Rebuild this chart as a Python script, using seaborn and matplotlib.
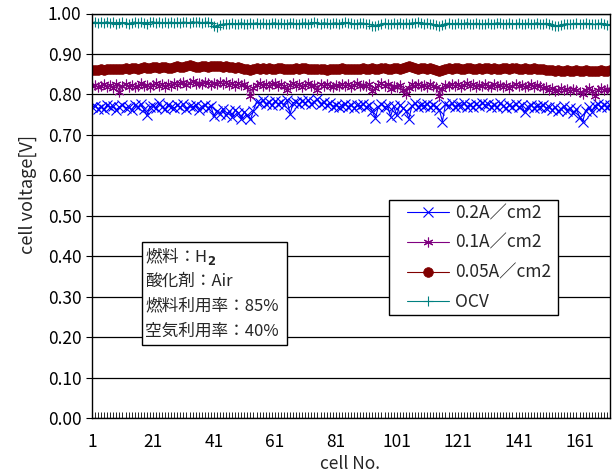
import numpy as np
import pandas as pd
import matplotlib
matplotlib.use("Agg")
import matplotlib.pyplot as plt
import seaborn as sns
from matplotlib.patches import Rectangle

# ---------------- data ----------------
series_names = ["0.2A／cm2", "0.1A／cm2", "0.05A／cm2", "OCV"]
x_tick_labels = ["1", "21", "41", "61", "81", "101", "121", "141", "161"]
y_tick_values = [0.0, 0.1, 0.2, 0.3, 0.4, 0.5, 0.6, 0.7, 0.8, 0.9, 1.0]

v_02 = [
    0.768, 0.772, 0.765, 0.770, 0.763, 0.775, 0.768, 0.771, 0.762, 0.769,
    0.774, 0.766, 0.770, 0.761, 0.773, 0.768, 0.776, 0.764, 0.748, 0.770,
    0.772, 0.766, 0.778, 0.769, 0.763, 0.775, 0.770, 0.766, 0.773, 0.768,
    0.776, 0.765, 0.771, 0.768, 0.774, 0.762, 0.770, 0.775, 0.767, 0.772,
    0.746, 0.760, 0.752, 0.765, 0.748, 0.758, 0.744, 0.762, 0.755, 0.740,
    0.757, 0.748, 0.738, 0.760, 0.782, 0.778, 0.785, 0.776, 0.781, 0.773,
    0.783, 0.777, 0.780, 0.774, 0.786, 0.752, 0.779, 0.782, 0.776, 0.784,
    0.779, 0.785, 0.777, 0.782, 0.788, 0.776, 0.781, 0.773, 0.779, 0.770,
    0.775, 0.768, 0.772, 0.777, 0.770, 0.774, 0.767, 0.773, 0.771, 0.776,
    0.769, 0.775, 0.758, 0.742, 0.770, 0.776, 0.768, 0.772, 0.745, 0.771,
    0.748, 0.774, 0.766, 0.760, 0.740, 0.772, 0.778, 0.769, 0.775, 0.771,
    0.777, 0.768, 0.774, 0.770, 0.762, 0.733, 0.776, 0.771, 0.778, 0.769,
    0.775, 0.772, 0.779, 0.770, 0.774, 0.768, 0.776, 0.771, 0.779, 0.773,
    0.777, 0.770, 0.775, 0.768, 0.778, 0.772, 0.766, 0.774, 0.770, 0.776,
    0.768, 0.773, 0.756, 0.770, 0.775, 0.767, 0.772, 0.769, 0.774, 0.766,
    0.770, 0.762, 0.768, 0.758, 0.765, 0.771, 0.760, 0.766, 0.755, 0.763,
    0.745, 0.732, 0.760, 0.768, 0.757, 0.772, 0.776, 0.768, 0.774, 0.770, 0.775,
]

v_01 = [
    0.820, 0.824, 0.818, 0.822, 0.826, 0.819, 0.823, 0.817, 0.825, 0.806,
    0.821, 0.826, 0.819, 0.824, 0.818, 0.822, 0.827, 0.820, 0.824, 0.819,
    0.823, 0.828, 0.821, 0.825, 0.819, 0.826, 0.822, 0.829, 0.824, 0.827,
    0.830, 0.824, 0.828, 0.832, 0.826, 0.829, 0.825, 0.831, 0.827, 0.823,
    0.829, 0.825, 0.831, 0.826, 0.830, 0.824, 0.828, 0.822, 0.827, 0.823,
    0.826, 0.818, 0.797, 0.815, 0.824, 0.828, 0.822, 0.826, 0.821, 0.825,
    0.828, 0.822, 0.826, 0.820, 0.812, 0.824, 0.827, 0.821, 0.825, 0.819,
    0.823, 0.827, 0.821, 0.824, 0.811, 0.825, 0.820, 0.826, 0.822, 0.818,
    0.824, 0.820, 0.826, 0.821, 0.825, 0.819, 0.823, 0.827, 0.821, 0.824,
    0.820, 0.826, 0.808, 0.815, 0.823, 0.827, 0.821, 0.825, 0.813, 0.822,
    0.818, 0.824, 0.812, 0.800, 0.817, 0.825, 0.821, 0.826, 0.820, 0.824,
    0.819, 0.825, 0.822, 0.818, 0.796, 0.814, 0.824, 0.820, 0.826, 0.821,
    0.825, 0.819, 0.823, 0.827, 0.821, 0.825, 0.818, 0.824, 0.820, 0.826,
    0.822, 0.818, 0.825, 0.820, 0.824, 0.819, 0.823, 0.817, 0.822, 0.826,
    0.820, 0.824, 0.818, 0.822, 0.826, 0.819, 0.823, 0.820, 0.815, 0.818,
    0.812, 0.815, 0.808, 0.812, 0.816, 0.810, 0.814, 0.809, 0.813, 0.811,
    0.807, 0.800, 0.812, 0.815, 0.808, 0.796, 0.812, 0.816, 0.810, 0.814, 0.811,
]

v_005 = [
    0.860, 0.861, 0.860, 0.862, 0.861, 0.863, 0.862, 0.864, 0.863, 0.862,
    0.864, 0.865, 0.863, 0.866, 0.865, 0.864, 0.866, 0.867, 0.865, 0.866,
    0.868, 0.867, 0.866, 0.868, 0.867, 0.865, 0.866, 0.868, 0.869, 0.867,
    0.868, 0.870, 0.872, 0.869, 0.867, 0.868, 0.870, 0.869, 0.868, 0.870,
    0.871, 0.869, 0.870, 0.868, 0.869, 0.867, 0.868, 0.866, 0.867, 0.865,
    0.864, 0.862, 0.861, 0.863, 0.865, 0.864, 0.866, 0.864, 0.865, 0.863,
    0.864, 0.866, 0.865, 0.863, 0.864, 0.862, 0.863, 0.865, 0.864, 0.866,
    0.865, 0.863, 0.864, 0.862, 0.863, 0.864, 0.862, 0.861, 0.863, 0.862,
    0.864, 0.863, 0.865, 0.864, 0.862, 0.863, 0.864, 0.862, 0.863, 0.865,
    0.864, 0.863, 0.865, 0.862, 0.864, 0.866, 0.865, 0.863, 0.864, 0.866,
    0.865, 0.864, 0.866, 0.868, 0.870, 0.867, 0.865, 0.864, 0.866, 0.865,
    0.864, 0.866, 0.863, 0.861, 0.858, 0.860, 0.863, 0.865, 0.864, 0.866,
    0.865, 0.863, 0.864, 0.866, 0.865, 0.863, 0.864, 0.866, 0.864, 0.865,
    0.866, 0.864, 0.865, 0.863, 0.864, 0.866, 0.865, 0.864, 0.866, 0.865,
    0.863, 0.864, 0.865, 0.863, 0.864, 0.866, 0.864, 0.862, 0.863, 0.861,
    0.860, 0.861, 0.859, 0.860, 0.858, 0.859, 0.860, 0.858, 0.859, 0.860,
    0.858, 0.859, 0.860, 0.858, 0.859, 0.857, 0.859, 0.860, 0.858, 0.859, 0.860,
]

v_ocv = [
    0.977, 0.979, 0.976, 0.978, 0.977, 0.980, 0.976, 0.978, 0.975, 0.977,
    0.978, 0.976, 0.975, 0.977, 0.979, 0.976, 0.978, 0.977, 0.975, 0.978,
    0.980, 0.977, 0.979, 0.976, 0.978, 0.977, 0.979, 0.976, 0.978, 0.977,
    0.979, 0.978, 0.977, 0.980, 0.978, 0.979, 0.977, 0.978, 0.979, 0.976,
    0.970, 0.967, 0.972, 0.974, 0.975, 0.973, 0.976, 0.974, 0.975, 0.977,
    0.975, 0.974, 0.976, 0.975, 0.977, 0.974, 0.976, 0.975, 0.973, 0.976,
    0.977, 0.975, 0.976, 0.974, 0.975, 0.977, 0.976, 0.974, 0.975, 0.976,
    0.977, 0.975, 0.976, 0.978, 0.976, 0.975, 0.977, 0.976, 0.974, 0.976,
    0.977, 0.975, 0.976, 0.978, 0.977, 0.976, 0.974, 0.975, 0.977, 0.976,
    0.975, 0.973, 0.970, 0.969, 0.972, 0.974, 0.976, 0.975, 0.974, 0.976,
    0.975, 0.977, 0.974, 0.976, 0.975, 0.977, 0.976, 0.978, 0.976, 0.975,
    0.976, 0.974, 0.973, 0.971, 0.968, 0.972, 0.975, 0.976, 0.974, 0.975,
    0.976, 0.974, 0.975, 0.977, 0.975, 0.974, 0.976, 0.975, 0.973, 0.975,
    0.976, 0.974, 0.975, 0.977, 0.976, 0.974, 0.975, 0.976, 0.974, 0.975,
    0.976, 0.974, 0.975, 0.976, 0.974, 0.975, 0.977, 0.975, 0.974, 0.976,
    0.974, 0.972, 0.970, 0.969, 0.972, 0.974, 0.975, 0.973, 0.975, 0.976,
    0.974, 0.975, 0.976, 0.974, 0.975, 0.973, 0.975, 0.976, 0.974, 0.972, 0.973,
]

cells = list(range(1, len(v_02) + 1))
info_lines = ["燃料：H$_\\mathbf{2}$", "酸化剤：Air", "燃料利用率：85%", "空気利用率：40%"]

# ---------------- style ----------------
sns.set_theme(style="white")
plt.rcParams["font.family"] = ["Noto Sans CJK JP", "DejaVu Sans"]
plt.rcParams["mathtext.fontset"] = "dejavusans"

W, H = 613, 475
fig = plt.figure(figsize=(W / 100, H / 100), dpi=100)
ax_bottom, ax_top = 418, 13.5
ax = fig.add_axes([92 / W, 1 - ax_bottom / H, (610 - 92) / W, (ax_bottom - ax_top) / H])

styles = [
    dict(color="#0000FF", marker="x", markersize=7, markeredgewidth=0.8),
    dict(color="#800080", marker=(6, 2, 0), markersize=7, markeredgewidth=0.8),
    dict(color="#800000", marker="o", markersize=7, markeredgewidth=0.5),
    dict(color="#008080", marker="+", markersize=7, markeredgewidth=0.8),
]
all_vals = [v_02, v_01, v_005, v_ocv]
for name, vals, st in zip(series_names, all_vals, styles):
    sns.lineplot(x=cells, y=vals, ax=ax, label=name, linewidth=0.8,
                 markeredgecolor=st["color"], **st)

ax.set_xlim(1, len(cells))
ax.set_ylim(0, 1.0)
ax.set_yticks(y_tick_values)
ax.set_yticklabels([f"{v:.2f}" for v in y_tick_values], fontsize=12.5)
ax.set_xticks([int(t) for t in x_tick_labels])
ax.set_xticklabels(x_tick_labels, fontsize=12.5)
ax.set_xticks(cells, minor=True)
ax.tick_params(axis="x", which="both", direction="in", length=4, width=0.6,
               pad=11, colors="black", bottom=True)
ax.tick_params(axis="y", which="major", direction="out", length=4, width=0.8,
               left=True, colors="black")
ax.yaxis.grid(True, color="black", linewidth=0.9)
ax.xaxis.grid(False)
for s in ax.spines.values():
    s.set_color("black")
    s.set_linewidth(1.0)

ax_w = 610 - 92
ax_h = ax_bottom - ax_top
ax.set_xlabel("cell No.", fontsize=12.5)
ax.xaxis.set_label_coords((350 - 92) / ax_w, -(455 - ax_bottom) / ax_h)
ax.set_ylabel("cell voltage[V]", fontsize=13)
ax.yaxis.set_label_coords((37 - 92) / ax_w, (ax_bottom - 194) / ax_h)

# legend: frame drawn separately, entries placed inside
fig.patches.append(Rectangle((389 / W, 1 - 315 / H), (558 - 389) / W, (315 - 200) / H,
                             transform=fig.transFigure, facecolor="white",
                             edgecolor="black", linewidth=1.0, zorder=5))
leg = ax.legend(loc="upper left", bbox_to_anchor=(407 / W, 1 - 204 / H),
                bbox_transform=fig.transFigure, fontsize=12.5, frameon=False,
                handlelength=2.4, handletextpad=0.35, labelspacing=0.68,
                borderpad=0.0, borderaxespad=0)
leg.set_zorder(6)
leg.remove()
fig.add_artist(leg)

# info box
fig.patches.append(Rectangle((142 / W, 1 - 345 / H), (287 - 142) / W, (345 - 242) / H,
                             transform=fig.transFigure, facecolor="white",
                             edgecolor="black", linewidth=1.0, zorder=5))
for i, line in enumerate(info_lines):
    fig.text(145 / W, 1 - (256 + i * 25) / H, line, fontsize=12, va="center",
             ha="left", zorder=6)

fig.savefig("out.png", dpi=100)
